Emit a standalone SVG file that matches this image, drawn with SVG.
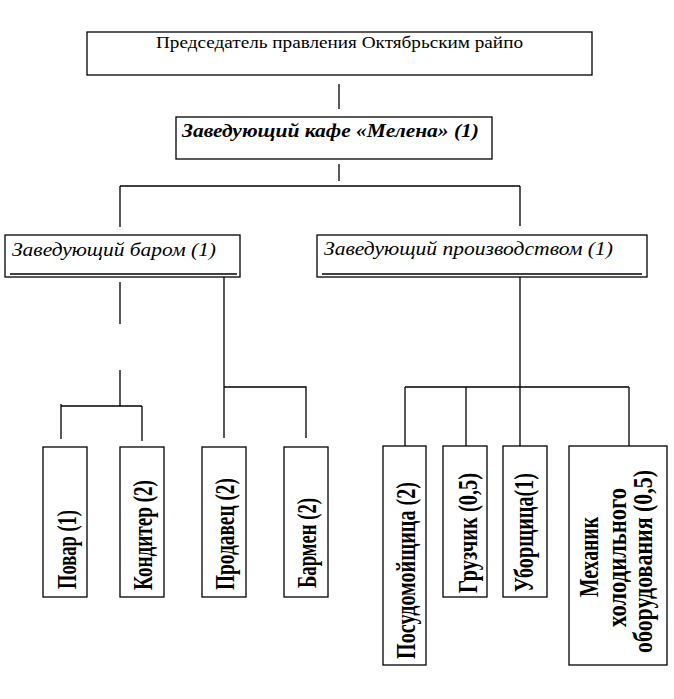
<svg xmlns="http://www.w3.org/2000/svg" width="674" height="699" viewBox="0 0 674 699">
<style>
.box{fill:#fff;stroke:#000;stroke-width:1.3}
.ln{fill:none;stroke:#000;stroke-width:1.3}
.t1{font-family:"Liberation Serif","Times New Roman",serif;font-size:16.5px;fill:#000}
.t2{font-family:"Liberation Serif","Times New Roman",serif;font-size:19px;font-weight:bold;font-style:italic;fill:#000}
.t3{font-family:"Liberation Serif","Times New Roman",serif;font-size:19px;font-style:italic;fill:#000}
.v{font-family:"Liberation Serif","Times New Roman",serif;font-size:27px;font-weight:bold;fill:#000}
</style>
<rect width="674" height="699" fill="#fff"/>
<g id="connectors">
<path class="ln" d="M339 84V109"/>
<path class="ln" d="M339 164V181"/>
<path class="ln" d="M120 186H520M120 186V227M520 186V226"/>
<path class="ln" d="M120 282V324M120 370V406M61 406H142M61 404V439M142 406V441"/>
<path class="ln" d="M224 277V438M224 387H306V438"/>
<path class="ln" d="M520 277V387M405 387H629M405 387V446M466 387V446M520 387V446M629 387V446"/>
</g>
<g id="n-chair">
<rect class="box" x="87" y="32" width="505" height="43"/>
<text class="t1" x="156" y="48" textLength="367" lengthAdjust="spacingAndGlyphs">Председатель правления Октябрьским райпо</text>
</g>
<g id="n-cafe">
<rect class="box" x="176" y="117" width="316" height="42"/>
<text class="t2" x="182" y="137" textLength="297" lengthAdjust="spacingAndGlyphs">Заведующий кафе «Мелена» (1)</text>
</g>
<g id="n-bar">
<rect class="box" x="5" y="235" width="235" height="42"/>
<path class="ln" d="M10 274H237"/>
<text class="t3" x="12" y="256" textLength="204" lengthAdjust="spacingAndGlyphs">Заведующий баром (1)</text>
</g>
<g id="n-prod">
<rect class="box" x="317" y="235" width="330" height="42"/>
<path class="ln" d="M322 274H642"/>
<text class="t3" x="324" y="255" textLength="289" lengthAdjust="spacingAndGlyphs">Заведующий производством (1)</text>
</g>
<g id="n-povar">
<rect class="box" x="43" y="447" width="44" height="150"/>
<text class="v" transform="translate(76 589) rotate(-90)" textLength="79" lengthAdjust="spacingAndGlyphs">Повар (1)</text>
</g>
<g id="n-konditer">
<rect class="box" x="120" y="447" width="44" height="150"/>
<text class="v" transform="translate(152 590) rotate(-90)" textLength="110" lengthAdjust="spacingAndGlyphs">Кондитер (2)</text>
</g>
<g id="n-prodavec">
<rect class="box" x="202" y="447" width="44" height="150"/>
<text class="v" transform="translate(234 590) rotate(-90)" textLength="112" lengthAdjust="spacingAndGlyphs">Продавец (2)</text>
</g>
<g id="n-barmen">
<rect class="box" x="284" y="447" width="44" height="150"/>
<text class="v" transform="translate(316 588) rotate(-90)" textLength="90" lengthAdjust="spacingAndGlyphs">Бармен (2)</text>
</g>
<g id="n-posud">
<rect class="box" x="383" y="446" width="43" height="219"/>
<text class="v" transform="translate(415 659) rotate(-90)" textLength="177" lengthAdjust="spacingAndGlyphs">Посудомойщица (2)</text>
</g>
<g id="n-gruzchik">
<rect class="box" x="443" y="446" width="44" height="151"/>
<text class="v" transform="translate(477 593) rotate(-90)" textLength="120" lengthAdjust="spacingAndGlyphs">Грузчик (0,5)</text>
</g>
<g id="n-uborsh">
<rect class="box" x="503" y="446" width="44" height="151"/>
<text class="v" transform="translate(533 592) rotate(-90)" textLength="119" lengthAdjust="spacingAndGlyphs">Уборщица(1)</text>
</g>
<g id="n-mehanik">
<rect class="box" x="569" y="446" width="98" height="219"/>
<text class="v" transform="translate(598 597) rotate(-90)" textLength="80" lengthAdjust="spacingAndGlyphs">Механик</text>
<text class="v" transform="translate(626 627) rotate(-90)" textLength="139" lengthAdjust="spacingAndGlyphs">холодильного</text>
<text class="v" transform="translate(652 653) rotate(-90)" textLength="183" lengthAdjust="spacingAndGlyphs">оборудования (0,5)</text>
</g>
</svg>
